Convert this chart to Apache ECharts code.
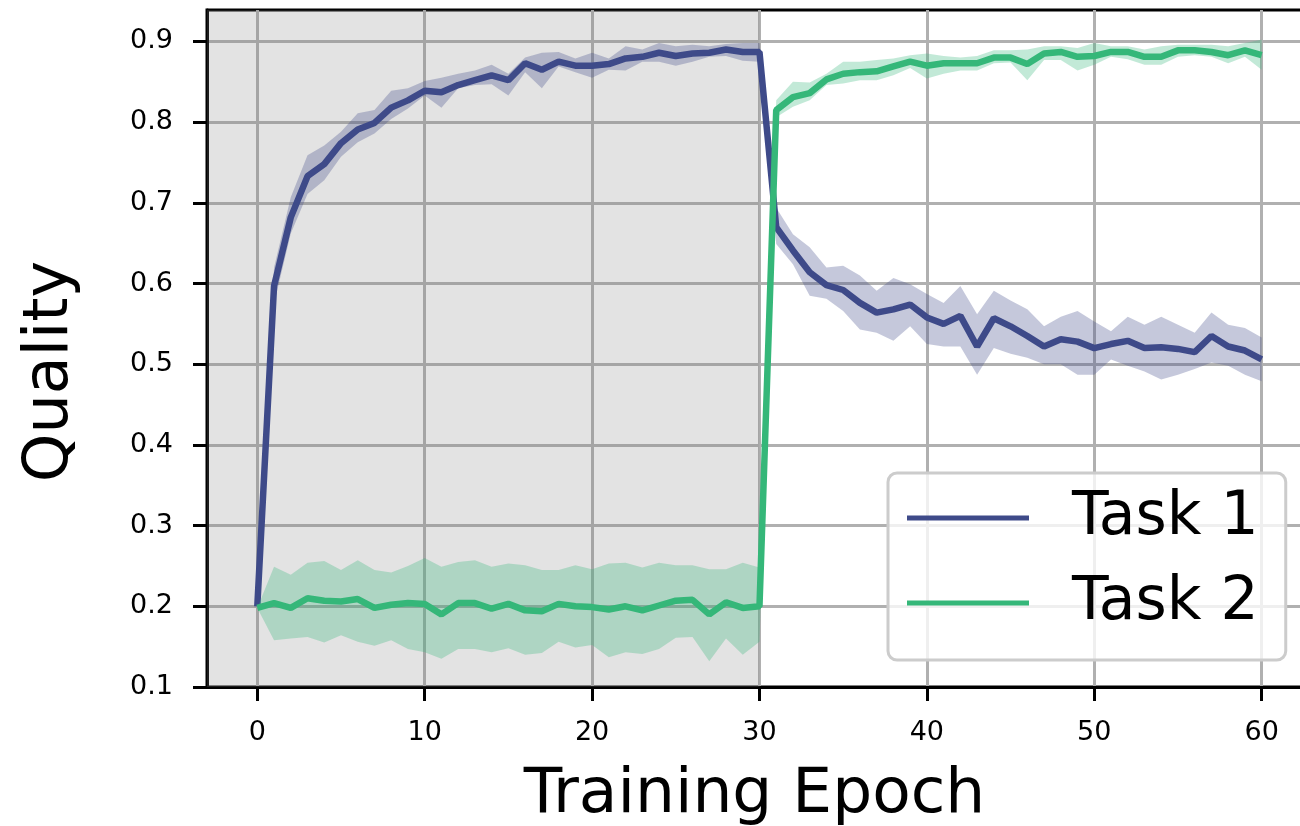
<!DOCTYPE html>
<html>
<head>
<meta charset="utf-8">
<script src="https://cdn.jsdelivr.net/npm/echarts@6/dist/echarts.min.js"></script>
<style>
html,body{margin:0;padding:0;background:#fff;}
#chart{width:1300px;height:826px;}
</style>
</head>
<body>
<div id="chart"></div>
<script>
// ---- data ----
const epochs = [0,1,2,3,4,5,6,7,8,9,10,11,12,13,14,15,16,17,18,19,20,21,22,23,24,25,26,27,28,29,30,31,32,33,34,35,36,37,38,39,40,41,42,43,44,45,46,47,48,49,50,51,52,53,54,55,56,57,58,59,60];
const task1Mean = [0.200,0.597,0.682,0.733,0.748,0.774,0.791,0.799,0.818,0.827,0.839,0.837,0.846,0.852,0.858,0.852,0.873,0.865,0.875,0.870,0.870,0.872,0.879,0.881,0.886,0.882,0.885,0.886,0.890,0.887,0.887,0.670,0.641,0.614,0.598,0.592,0.576,0.564,0.568,0.574,0.558,0.550,0.560,0.522,0.557,0.547,0.535,0.522,0.531,0.528,0.520,0.525,0.529,0.520,0.521,0.519,0.515,0.535,0.522,0.517,0.506];
const task1Upper = [0.200,0.620,0.707,0.759,0.771,0.788,0.811,0.815,0.839,0.842,0.851,0.855,0.860,0.864,0.871,0.860,0.880,0.886,0.887,0.879,0.886,0.879,0.894,0.890,0.898,0.894,0.896,0.894,0.897,0.898,0.898,0.694,0.661,0.645,0.620,0.622,0.610,0.591,0.607,0.599,0.587,0.576,0.597,0.562,0.591,0.579,0.568,0.547,0.559,0.566,0.553,0.541,0.559,0.549,0.559,0.549,0.539,0.564,0.549,0.545,0.533];
const task1Lower = [0.200,0.575,0.662,0.711,0.728,0.757,0.775,0.786,0.804,0.817,0.833,0.818,0.842,0.846,0.847,0.833,0.862,0.842,0.869,0.862,0.855,0.865,0.864,0.875,0.875,0.870,0.875,0.881,0.882,0.876,0.875,0.649,0.624,0.585,0.581,0.566,0.543,0.539,0.529,0.547,0.525,0.522,0.522,0.487,0.520,0.513,0.508,0.500,0.500,0.487,0.487,0.506,0.498,0.491,0.481,0.487,0.494,0.502,0.498,0.487,0.479];
const task2Mean = [0.198,0.204,0.198,0.210,0.207,0.206,0.209,0.198,0.202,0.204,0.203,0.190,0.204,0.204,0.197,0.203,0.195,0.194,0.203,0.200,0.199,0.196,0.200,0.195,0.201,0.207,0.208,0.190,0.205,0.198,0.200,0.815,0.831,0.836,0.853,0.860,0.862,0.863,0.869,0.875,0.870,0.873,0.873,0.873,0.880,0.880,0.872,0.885,0.887,0.881,0.882,0.887,0.887,0.881,0.881,0.889,0.889,0.887,0.883,0.889,0.883];
const task2Upper = [0.198,0.249,0.239,0.254,0.256,0.245,0.257,0.245,0.242,0.250,0.260,0.249,0.255,0.257,0.249,0.253,0.251,0.245,0.245,0.251,0.246,0.253,0.254,0.248,0.254,0.251,0.251,0.246,0.246,0.254,0.248,0.827,0.850,0.849,0.860,0.875,0.875,0.877,0.879,0.883,0.885,0.882,0.880,0.882,0.889,0.889,0.890,0.894,0.894,0.892,0.898,0.894,0.894,0.890,0.894,0.896,0.896,0.896,0.894,0.898,0.902];
const task2Lower = [0.198,0.158,0.160,0.162,0.155,0.164,0.156,0.151,0.158,0.147,0.143,0.135,0.147,0.147,0.143,0.148,0.140,0.142,0.156,0.149,0.152,0.137,0.143,0.141,0.147,0.161,0.162,0.132,0.160,0.140,0.156,0.806,0.819,0.827,0.846,0.848,0.852,0.852,0.858,0.867,0.854,0.860,0.864,0.864,0.873,0.874,0.852,0.877,0.877,0.864,0.871,0.881,0.878,0.871,0.871,0.881,0.883,0.881,0.873,0.881,0.865];
const xTicks = [0,10,20,30,40,50,60];
const yTicks = [0.1,0.2,0.3,0.4,0.5,0.6,0.7,0.8,0.9];
const seriesNames = ['Task 1','Task 2'];
const phaseBoundary = 30;
const xMin = -3.005, xMax = 62.41;
const yMin = 0.1, yMax = 0.939;

// ---- build ----
const C1 = '#3e4a89', C2 = '#35b779';
const FONT = 'DejaVu Sans';
const pairs = (ys) => epochs.map((x, i) => [x, ys[i]]);

function band(name, up, lo, color, z) {
  return {
    name: name + ' band', type: 'custom', silent: true, z: z,
    data: epochs.map((x, i) => [x, lo[i], up[i]]),
    encode: { x: 0, y: [1, 2] },
    renderItem: function (params, api) {
      if (params.dataIndex !== 0) return null;
      const pts = [];
      for (let i = 0; i < epochs.length; i++) pts.push(api.coord([epochs[i], up[i]]));
      for (let i = epochs.length - 1; i >= 0; i--) pts.push(api.coord([epochs[i], lo[i]]));
      return { type: 'polygon', shape: { points: pts }, style: { fill: color, opacity: 0.3 } };
    }
  };
}

const chart = echarts.init(document.getElementById('chart'), null, { renderer: 'canvas' });
const option = {
  animation: false,
  backgroundColor: '#fff',
  textStyle: { fontFamily: FONT },
  grid: {
    left: 207, top: 10, right: -2, bottom: 139,
    show: true, borderColor: '#000', borderWidth: 3, backgroundColor: 'transparent',
    containLabel: false, outerBoundsMode: 'none'
  },
  xAxis: {
    type: 'value', min: xMin, max: xMax,
    name: 'Training Epoch', nameLocation: 'middle', nameGap: 77,
    nameTextStyle: { fontSize: 63, color: '#000', fontFamily: FONT },
    axisLine: { show: true, onZero: false, lineStyle: { color: '#000', width: 3 } },
    axisTick: { show: true, length: 14, lineStyle: { color: '#000', width: 3 }, customValues: xTicks },
    axisLabel: { fontSize: 27, color: '#000', margin: 32, fontFamily: FONT, customValues: xTicks },
    splitLine: { show: true, lineStyle: { color: '#b0b0b0', width: 3 } }
  },
  yAxis: {
    type: 'value', min: yMin, max: yMax,
    name: 'Quality', nameLocation: 'middle', nameGap: 125, nameRotate: 90,
    nameTextStyle: { fontSize: 62, color: '#000', fontFamily: FONT, padding: [0, 46, 0, 0] },
    axisLine: { show: true, onZero: false, lineStyle: { color: '#000', width: 3 } },
    axisTick: { show: true, length: 14, lineStyle: { color: '#000', width: 3 }, customValues: yTicks },
    axisLabel: { fontSize: 27, color: '#000', margin: 34, fontFamily: FONT, customValues: yTicks,
      formatter: v => v.toFixed(1) },
    splitLine: { show: true, lineStyle: { color: '#b0b0b0', width: 3 } }
  },
  legend: {
    data: seriesNames, orient: 'vertical', left: 888, top: 473,
    icon: 'rect', itemWidth: 122, itemHeight: 5, itemGap: 25,
    padding: [15, 27, 27, 19],
    backgroundColor: 'rgba(255,255,255,0.8)', borderColor: '#cccccc', borderWidth: 3, borderRadius: 9,
    textStyle: { fontSize: 60, color: '#000', fontFamily: FONT, lineHeight: 60, padding: [0, 0, 0, 38] }
  },
  series: [
    { name: 'phase', type: 'line', data: [], z: 1, silent: true,
      markArea: {
        silent: true,
        itemStyle: { color: 'rgba(128,128,128,0.22)' },
        data: [[{ xAxis: xMin }, { xAxis: phaseBoundary }]]
      } },
    band('Task 1', task1Upper, task1Lower, C1, 2),
    { name: seriesNames[0], type: 'line', data: pairs(task1Mean), symbol: 'none', color: C1,
      lineStyle: { color: C1, width: 6.5 }, z: 3 },
    band('Task 2', task2Upper, task2Lower, C2, 4),
    { name: seriesNames[1], type: 'line', data: pairs(task2Mean), symbol: 'none', color: C2,
      lineStyle: { color: C2, width: 6.5 }, z: 5 }
  ]
};
chart.setOption(option);
</script>
</body>
</html>
